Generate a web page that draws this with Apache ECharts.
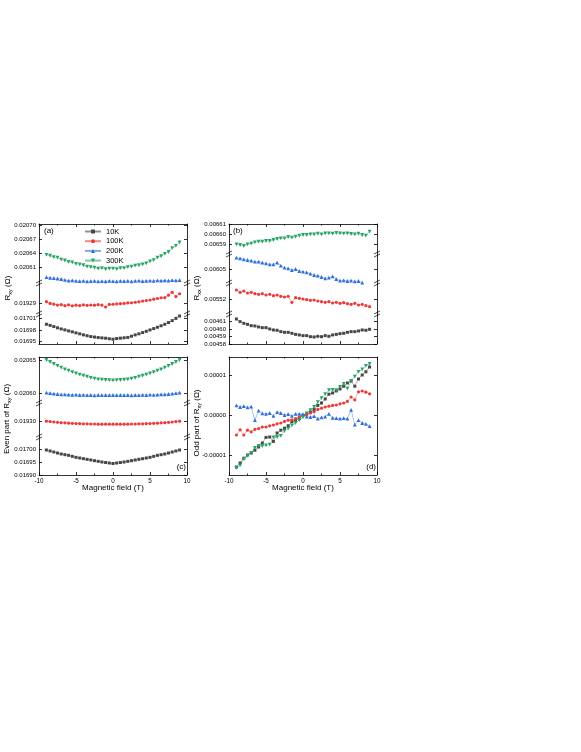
<!DOCTYPE html>
<html>
<head>
<meta charset="utf-8">
<script src="https://cdn.jsdelivr.net/npm/echarts@6/dist/echarts.min.js"></script>
<style>
  html, body { margin: 0; background: #fff; }
  #chart { width: 581px; height: 752px; }
</style>
</head>
<body>
<div id="chart"></div>
<script>
// magnetic field (T), shared by every curve
const fields = [-9,-8.5,-8,-7.5,-7,-6.5,-6,-5.5,-5,-4.5,-4,-3.5,-3,-2.5,-2,-1.5,-1,-0.5,0,0.5,1,1.5,2,2.5,3,3.5,4,4.5,5,5.5,6,6.5,7,7.5,8,8.5,9];

// (a) Rxy
const a300K = [0.0206370,0.0206350,0.0206320,0.0206310,0.0206270,0.0206250,0.0206220,0.0206210,0.0206180,0.0206170,0.0206150,0.0206120,0.0206110,0.0206100,0.0206080,0.0206090,0.0206070,0.0206080,0.0206080,0.0206070,0.0206090,0.0206090,0.0206110,0.0206120,0.0206140,0.0206150,0.0206170,0.0206190,0.0206230,0.0206260,0.0206310,0.0206340,0.0206390,0.0206430,0.0206510,0.0206560,0.0206630];
const a200K = [0.0205900,0.0205885,0.0205880,0.0205870,0.0205860,0.0205840,0.0205825,0.0205830,0.0205820,0.0205815,0.0205820,0.0205810,0.0205815,0.0205820,0.0205810,0.0205815,0.0205810,0.0205820,0.0205815,0.0205810,0.0205820,0.0205815,0.0205820,0.0205810,0.0205820,0.0205825,0.0205815,0.0205820,0.0205825,0.0205820,0.0205830,0.0205825,0.0205830,0.0205825,0.0205835,0.0205830,0.0205835];
const a100K = [0.0192943,0.0192905,0.0192890,0.0192870,0.0192880,0.0192858,0.0192875,0.0192855,0.0192868,0.0192860,0.0192875,0.0192865,0.0192872,0.0192868,0.0192880,0.0192870,0.0192830,0.0192885,0.0192888,0.0192895,0.0192900,0.0192905,0.0192915,0.0192920,0.0192930,0.0192940,0.0192955,0.0192965,0.0192978,0.0192995,0.0193010,0.0193025,0.0193030,0.0193080,0.0193140,0.0193050,0.0193110];
const a10K = [0.0169950,0.0169920,0.0169888,0.0169855,0.0169825,0.0169800,0.0169773,0.0169748,0.0169720,0.0169695,0.0169668,0.0169645,0.0169623,0.0169610,0.0169596,0.0169588,0.0169579,0.0169565,0.0169552,0.0169570,0.0169580,0.0169590,0.0169600,0.0169632,0.0169667,0.0169695,0.0169728,0.0169762,0.0169799,0.0169835,0.0169870,0.0169910,0.0169949,0.0169995,0.0170046,0.0170105,0.0170169];

// (b) Rxx
const b300K = [0.0065897,0.0065890,0.0065880,0.0065897,0.0065903,0.0065917,0.0065923,0.0065923,0.0065930,0.0065930,0.0065940,0.0065950,0.0065957,0.0065957,0.0065970,0.0065963,0.0065973,0.0065983,0.0065990,0.0065990,0.0065997,0.0065997,0.0066003,0.0065997,0.0066007,0.0066007,0.0066003,0.0066010,0.0066007,0.0066003,0.0066007,0.0066000,0.0065997,0.0066003,0.0065990,0.0065983,0.0066023];
const b200K = [0.0060616,0.0060610,0.0060600,0.0060593,0.0060586,0.0060576,0.0060576,0.0060566,0.0060560,0.0060550,0.0060550,0.0060566,0.0060536,0.0060516,0.0060510,0.0060493,0.0060503,0.0060483,0.0060476,0.0060470,0.0060456,0.0060443,0.0060436,0.0060423,0.0060410,0.0060416,0.0060430,0.0060403,0.0060386,0.0060390,0.0060383,0.0060386,0.0060380,0.0060383,0.0060366,null,null];
const b100K = [0.0055293,0.0055270,0.0055283,0.0055263,0.0055270,0.0055256,0.0055250,0.0055256,0.0055243,0.0055250,0.0055236,0.0055243,0.0055230,0.0055223,0.0055230,0.0055170,0.0055216,0.0055210,0.0055203,0.0055196,0.0055190,0.0055193,0.0055183,0.0055176,0.0055170,0.0055176,0.0055163,0.0055170,0.0055160,0.0055166,0.0055156,0.0055150,0.0055160,0.0055143,0.0055150,0.0055136,0.0055126];
const b10K = [0.0046132,0.0046097,0.0046074,0.0046061,0.0046043,0.0046039,0.0046026,0.0046017,0.0046017,0.0045999,0.0045986,0.0045982,0.0045964,0.0045955,0.0045955,0.0045942,0.0045928,0.0045920,0.0045911,0.0045911,0.0045897,0.0045893,0.0045902,0.0045897,0.0045911,0.0045902,0.0045920,0.0045928,0.0045937,0.0045942,0.0045955,0.0045964,0.0045964,0.0045973,0.0045986,0.0045982,0.0045995];

// (c) even part of Rxy
const c300K = [0.0206500,0.0206470,0.0206440,0.0206412,0.0206385,0.0206360,0.0206340,0.0206318,0.0206300,0.0206280,0.0206265,0.0206250,0.0206232,0.0206220,0.0206210,0.0206205,0.0206200,0.0206198,0.0206195,0.0206198,0.0206200,0.0206205,0.0206210,0.0206220,0.0206232,0.0206250,0.0206265,0.0206280,0.0206300,0.0206318,0.0206340,0.0206360,0.0206385,0.0206412,0.0206440,0.0206470,0.0206500];
const c200K = [0.0206010,0.0206002,0.0205995,0.0205990,0.0205985,0.0205985,0.0205980,0.0205978,0.0205980,0.0205975,0.0205978,0.0205972,0.0205975,0.0205970,0.0205975,0.0205972,0.0205975,0.0205972,0.0205975,0.0205972,0.0205975,0.0205972,0.0205975,0.0205970,0.0205975,0.0205972,0.0205978,0.0205975,0.0205980,0.0205978,0.0205980,0.0205985,0.0205985,0.0205990,0.0205995,0.0206002,0.0206010];
const c100K = [0.0192998,0.0192992,0.0192985,0.0192980,0.0192975,0.0192972,0.0192968,0.0192965,0.0192962,0.0192960,0.0192958,0.0192957,0.0192955,0.0192955,0.0192953,0.0192953,0.0192952,0.0192953,0.0192952,0.0192953,0.0192952,0.0192953,0.0192953,0.0192955,0.0192955,0.0192957,0.0192958,0.0192960,0.0192962,0.0192965,0.0192968,0.0192972,0.0192975,0.0192980,0.0192985,0.0192992,0.0192998];
const c10K = [0.0169988,0.0169948,0.0169909,0.0169869,0.0169830,0.0169803,0.0169777,0.0169737,0.0169698,0.0169672,0.0169645,0.0169619,0.0169593,0.0169566,0.0169540,0.0169514,0.0169494,0.0169474,0.0169455,0.0169474,0.0169494,0.0169514,0.0169540,0.0169566,0.0169593,0.0169619,0.0169645,0.0169672,0.0169698,0.0169737,0.0169777,0.0169803,0.0169830,0.0169869,0.0169909,0.0169948,0.0169988];

// (d) odd part of Rxy
const d10K = [-1.30e-5,-1.20e-5,-1.08e-5,-1.00e-5,-0.95e-5,-0.88e-5,-0.80e-5,-0.70e-5,-0.56e-5,-0.55e-5,-0.66e-5,-0.45e-5,-0.38e-5,-0.33e-5,-0.27e-5,-0.17e-5,-0.14e-5,-0.09e-5,-0.01e-5,0.02e-5,0.07e-5,0.14e-5,0.24e-5,0.30e-5,0.40e-5,0.52e-5,0.55e-5,0.60e-5,0.65e-5,0.72e-5,0.80e-5,0.85e-5,0.72e-5,0.90e-5,1.00e-5,1.08e-5,1.20e-5];
const d100K = [-0.50e-5,-0.37e-5,-0.50e-5,-0.38e-5,-0.42e-5,-0.36e-5,-0.34e-5,-0.30e-5,-0.30e-5,-0.27e-5,-0.25e-5,-0.22e-5,-0.20e-5,-0.16e-5,-0.13e-5,-0.12e-5,-0.09e-5,-0.05e-5,-0.01e-5,0.02e-5,0.05e-5,0.08e-5,0.14e-5,0.17e-5,0.20e-5,0.22e-5,0.24e-5,0.25e-5,0.28e-5,0.30e-5,0.34e-5,0.45e-5,0.38e-5,0.58e-5,0.60e-5,0.57e-5,0.53e-5];
const d200K = [0.24e-5,0.20e-5,0.22e-5,0.19e-5,0.21e-5,-0.13e-5,0.11e-5,0.04e-5,0.03e-5,0.05e-5,-0.02e-5,0.07e-5,0.05e-5,0.00e-5,0.02e-5,-0.02e-5,0.03e-5,0.03e-5,0.02e-5,-0.04e-5,-0.05e-5,-0.03e-5,-0.09e-5,-0.06e-5,-0.04e-5,0.03e-5,-0.07e-5,-0.08e-5,-0.09e-5,-0.08e-5,-0.09e-5,0.13e-5,-0.24e-5,-0.13e-5,-0.20e-5,-0.22e-5,-0.28e-5];
const d300K = [-1.32e-5,-1.26e-5,-1.10e-5,-1.02e-5,-0.95e-5,-0.82e-5,-0.77e-5,-0.78e-5,-0.76e-5,-0.74e-5,-0.56e-5,-0.55e-5,-0.52e-5,-0.40e-5,-0.34e-5,-0.26e-5,-0.20e-5,-0.13e-5,-0.06e-5,0.04e-5,0.12e-5,0.20e-5,0.32e-5,0.42e-5,0.52e-5,0.62e-5,0.63e-5,0.62e-5,0.70e-5,0.78e-5,0.66e-5,0.85e-5,0.96e-5,1.08e-5,1.14e-5,1.23e-5,1.28e-5];

// tick labels for each axis segment
const aTicksTop = [0.02061, 0.02064, 0.02067, 0.02070];
const aTicksMid = [0.01929];
const aTicksLow = [0.01695, 0.01698, 0.01701];
const bTicks1 = [0.00659, 0.00660, 0.00661];
const bTicks2 = [0.00605];
const bTicks3 = [0.00552];
const bTicks4 = [0.00458, 0.00459, 0.00460, 0.00461];
const cTicks1 = [0.02060, 0.02065];
const cTicks2 = [0.01930];
const cTicks3 = [0.01690, 0.01695, 0.01700];
const dTicks = [-0.00001, 0, 0.00001];

const FONT = '"Liberation Sans", Arial, sans-serif';
const PW = 148; // panel width

const look = {
  '10K':  { color: '#474747', symbol: 'rect', rot: 0, size: 3 },
  '100K': { color: '#ec3a3a', symbol: 'circle', rot: 0, size: 3.2 },
  '200K': { color: '#2f6fdb', symbol: 'triangle', rot: 0, size: 3.8 },
  '300K': { color: '#2aa462', symbol: 'triangle', rot: 180, size: 3.8 }
};

// broken y axes: each piece is its own grid
const panels = [
  { left: 39, xLabels: false, segs: [
    { top: 224, h: 59, min: 0.0205775, max: 0.0207021, ticks: aTicksTop, lines: [['200K', a200K], ['300K', a300K]] },
    { top: 283, h: 31, min: 0.0192682, max: 0.0193337, ticks: aTicksMid, lines: [['100K', a100K]] },
    { top: 314, h: 30, min: 0.0169425, max: 0.0170222, ticks: aTicksLow, lines: [['10K', a10K]] }
  ]},
  { left: 229, xLabels: false, segs: [
    { top: 224, h: 30, min: 0.00658, max: 0.00661, ticks: bTicks1, lines: [['300K', b300K]] },
    { top: 254, h: 29, min: 0.0060363, max: 0.0060653, ticks: bTicks2, lines: [['200K', b200K]] },
    { top: 283, h: 31, min: 0.0055053, max: 0.0055363, ticks: bTicks3, lines: [['100K', b100K]] },
    { top: 314, h: 30, min: 0.00458, max: 0.0046198, ticks: bTicks4, lines: [['10K', b10K]] }
  ]},
  { left: 39, xLabels: true, segs: [
    { top: 357, h: 46, min: 0.0205855, max: 0.0206545, ticks: cTicks1, lines: [['200K', c200K], ['300K', c300K]] },
    { top: 403, h: 34, min: 0.019276, max: 0.019327, ticks: cTicks2, lines: [['100K', c100K]] },
    { top: 437, h: 38, min: 0.0169, max: 0.0170502, ticks: cTicks3, lines: [['10K', c10K]] }
  ]},
  { left: 229, xLabels: true, segs: [
    { top: 357, h: 118, min: -1.5e-5, max: 1.45e-5, ticks: dTicks, lines: [['10K', d10K], ['100K', d100K], ['200K', d200K], ['300K', d300K]] }
  ]}
];

const axLine = { color: '#000', width: 0.8 };

function xAx(g, pos, show, labels) {
  return {
    type: 'value', gridIndex: g, position: pos, show: show,
    min: -10, max: 10, interval: 5,
    axisLine: { onZero: false, lineStyle: axLine },
    axisTick: { inside: true, length: 3, lineStyle: axLine },
    minorTick: { show: true, splitNumber: 2, length: 1.5, lineStyle: axLine },
    axisLabel: { show: labels, fontSize: 6.3, color: '#000', margin: 3, fontFamily: FONT },
    splitLine: { show: false }
  };
}

function yAx(g, pos, s, labels) {
  return {
    type: 'value', gridIndex: g, position: pos,
    min: s.min, max: s.max,
    axisLine: { show: true, onZero: false, lineStyle: axLine },
    axisTick: { show: true, inside: true, length: 3, customValues: s.ticks, lineStyle: axLine },
    axisLabel: { show: labels, customValues: s.ticks, formatter: v => v.toFixed(5),
                 fontSize: 6, color: '#000', margin: 3, fontFamily: FONT },
    splitLine: { show: false }
  };
}

function brk(x, y) {
  const ln = { stroke: '#000', lineWidth: 0.7 };
  return { type: 'group', z: 100, children: [
    { type: 'rect', shape: { x: x - 3, y: y - 1.6, width: 6, height: 3.2 }, style: { fill: '#fff' } },
    { type: 'line', shape: { x1: x - 3, y1: y, x2: x + 3, y2: y - 3 }, style: ln },
    { type: 'line', shape: { x1: x - 3, y1: y + 3, x2: x + 3, y2: y }, style: ln }
  ]};
}

const grid = [], xAxis = [], yAxis = [], series = [], graphic = [];
panels.forEach(p => {
  p.segs.forEach((s, k) => {
    const g = grid.length;
    const isTop = k === 0, isBot = k === p.segs.length - 1;
    grid.push({ left: p.left, top: s.top, width: PW, height: s.h, containLabel: false, outerBoundsMode: 'none' });
    const xi = xAxis.length;
    xAxis.push(xAx(g, 'bottom', isBot, isBot && p.xLabels));
    if (isTop) xAxis.push(xAx(g, 'top', true, false));
    const yi = yAxis.length;
    yAxis.push(yAx(g, 'left', s, true));
    yAxis.push(yAx(g, 'right', s, false));
    s.lines.forEach(([name, vals]) => {
      const L = look[name];
      series.push({
        type: 'line', name: name, xAxisIndex: xi, yAxisIndex: yi,
        data: fields.map((f, i) => [f, vals[i]]),
        symbol: L.symbol, symbolSize: L.size, symbolRotate: L.rot,
        itemStyle: { color: L.color },
        lineStyle: { color: L.color, width: 0.7, opacity: 0.6 },
        animation: false
      });
    });
    if (!isBot) {
      graphic.push(brk(p.left, s.top + s.h), brk(p.left + PW, s.top + s.h));
    }
  });
});

function label(x, y, text, align) {
  return { type: 'text', x: x, y: y, z: 100,
    style: { text: text, fontSize: 8, fontFamily: FONT, fill: '#000',
             align: align, textAlign: align, verticalAlign: 'middle', textVerticalAlign: 'middle' } };
}

function yTitle(x, y, pre, sub, post) {
  const rich = {
    m: { fontSize: 8, fontFamily: FONT, fill: '#000', lineHeight: 10 },
    s: { fontSize: 5.5, fontFamily: FONT, fill: '#000', lineHeight: 10, verticalAlign: 'bottom' }
  };
  return { type: 'text', x: x, y: y, rotation: Math.PI / 2, z: 100,
    style: { text: '{m|' + pre + '}{s|' + sub + '}{m|' + post + '}', rich: rich,
             align: 'center', textAlign: 'center', verticalAlign: 'middle', textVerticalAlign: 'middle' } };
}

graphic.push(
  label(44, 231, '(a)', 'left'),
  label(233, 231, '(b)', 'left'),
  label(186, 467, '(c)', 'right'),
  label(376, 467, '(d)', 'right'),
  label(113, 488, 'Magnetic field (T)', 'center'),
  label(303, 488, 'Magnetic field (T)', 'center'),
  yTitle(8, 288, 'R', 'xy', ' (Ω)'),
  yTitle(197, 288, 'R', 'xx', ' (Ω)'),
  yTitle(7, 419, 'Even part of R', 'xy', ' (Ω)'),
  yTitle(197, 423, 'Odd part of R', 'xy', ' (Ω)')
);

const chart = echarts.init(document.getElementById('chart'));
chart.setOption({
  backgroundColor: '#fff',
  animation: false,
  textStyle: { fontFamily: FONT },
  legend: {
    data: ['10K', '100K', '200K', '300K'],
    orient: 'vertical', left: 84, top: 227, padding: 0,
    itemWidth: 16, itemHeight: 5, itemGap: 0.7, selectedMode: false,
    textStyle: { fontSize: 7.5, lineHeight: 9, fontFamily: FONT, color: '#000' }
  },
  grid: grid, xAxis: xAxis, yAxis: yAxis, series: series, graphic: graphic
});
</script>
</body>
</html>
